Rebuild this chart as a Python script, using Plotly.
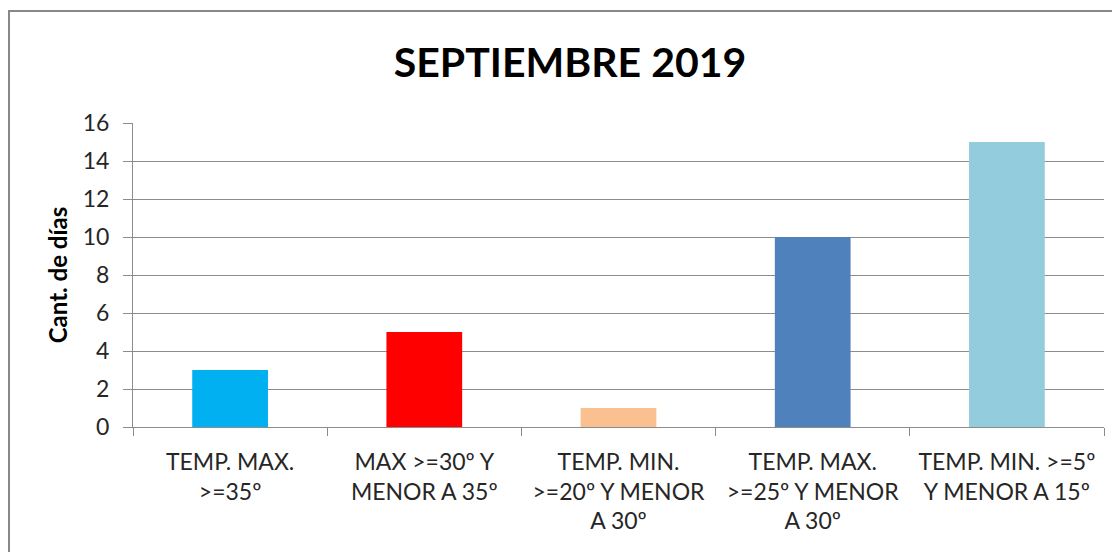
import plotly.graph_objects as go

categories = [
    "TEMP. MAX.<br>>=35º",
    "MAX >=30º Y<br>MENOR A 35º",
    "TEMP. MIN.<br>>=20º Y MENOR<br>A 30º",
    "TEMP. MAX.<br>>=25º Y MENOR<br>A 30º",
    "TEMP. MIN. >=5º<br>Y MENOR A 15º",
]
values = [3, 5, 1, 10, 15]
colors = ["#00B0F0", "#FF0000", "#FAC090", "#4F81BD", "#93CDDD"]
yticks = [0, 2, 4, 6, 8, 10, 12, 14, 16]

# page body has an 8px margin, so the figure is shifted by 8px
OFF = 8
W, H = 1120 - OFF, 552 - OFF
L = 133 - OFF
R = W - (1104 - OFF)
T = 123 - OFF
B = H - (427 - OFF)
pw = W - L - R
ph = H - T - B


def px_x(p):
    return (p - OFF - L) / pw


def px_y(p):
    return (H - B - (p - OFF)) / ph


fig = go.Figure(go.Bar(
    x=categories, y=values,
    marker=dict(color=colors, line=dict(width=0)),
    width=0.39,
))

fig.update_layout(
    width=W, height=H,
    margin=dict(l=L, r=R, t=T, b=B, autoexpand=False),
    paper_bgcolor="white", plot_bgcolor="white",
    font=dict(family="Lato, Carlito, sans-serif", size=23, color="#262626"),
    title=dict(text="<b>SEPTIEMBRE 2019</b>", x=(570 - OFF) / W, xanchor="center",
               y=1 - (63 - OFF) / H, yanchor="middle",
               font=dict(size=41, color="black")),
    showlegend=False,
    shapes=[dict(type="rect", xref="paper", yref="paper",
                 x0=px_x(9), x1=px_x(1140), y0=px_y(580), y1=px_y(11),
                 line=dict(color="#888888", width=2), layer="below")],
)
fig.update_xaxes(
    showline=True, linecolor="#8c8c8c", linewidth=1,
    ticks="outside", tickson="boundaries", ticklen=8, tickcolor="#8c8c8c",
    tickfont=dict(size=23, color="#262626"),
    ticklabelstandoff=14,
    showgrid=False,
)
fig.update_yaxes(
    range=[0, 16], tickvals=yticks,
    showline=True, linecolor="#8c8c8c", linewidth=1,
    ticks="outside", ticklen=9, tickcolor="#8c8c8c",
    showgrid=True, gridcolor="#8c8c8c", gridwidth=1,
    tickfont=dict(size=23, color="#262626"),
    ticklabelstandoff=9,
    title=dict(text="<b>Cant. de días</b>", font=dict(size=24, color="black"), standoff=8),
    zeroline=False,
)

fig.write_html("out.html")
